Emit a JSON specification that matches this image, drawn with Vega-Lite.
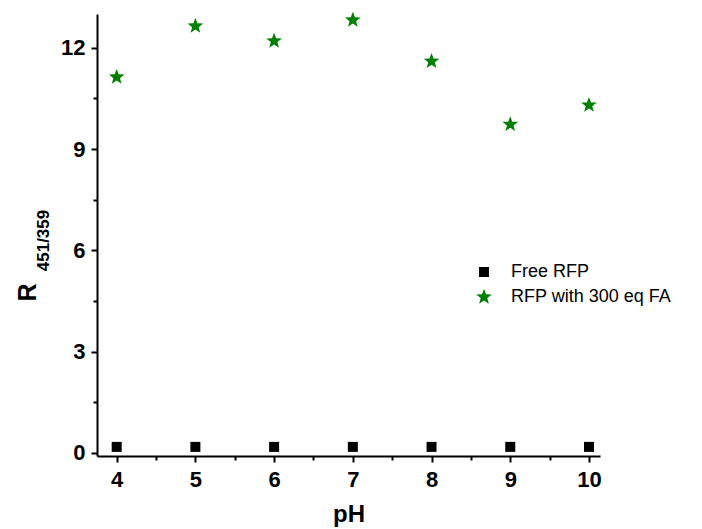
{
  "$schema": "https://vega.github.io/schema/vega-lite/v6.json",
  "width": 503,
  "height": 442,
  "autosize": {"type": "none"},
  "padding": {"left": 97, "top": 14, "right": 102, "bottom": 73},
  "background": "white",
  "config": {
    "view": {"stroke": null},
    "font": "Liberation Sans",
    "axis": {"grid": false, "domainColor": "black", "domainWidth": 2, "tickColor": "black", "tickWidth": 2, "labelColor": "black", "titleColor": "black", "labelFont": "Liberation Sans", "titleFont": "Liberation Sans"}
  },
  "datasets": {
    "pts": [
      {"pH": 4, "R": 0.18, "series": "Free RFP"},
      {"pH": 5, "R": 0.18, "series": "Free RFP"},
      {"pH": 6, "R": 0.18, "series": "Free RFP"},
      {"pH": 7, "R": 0.18, "series": "Free RFP"},
      {"pH": 8, "R": 0.18, "series": "Free RFP"},
      {"pH": 9, "R": 0.18, "series": "Free RFP"},
      {"pH": 10, "R": 0.18, "series": "Free RFP"},
      {"pH": 4, "R": 11.13, "series": "RFP with 300 eq FA"},
      {"pH": 5, "R": 12.64, "series": "RFP with 300 eq FA"},
      {"pH": 6, "R": 12.2, "series": "RFP with 300 eq FA"},
      {"pH": 7, "R": 12.82, "series": "RFP with 300 eq FA"},
      {"pH": 8, "R": 11.6, "series": "RFP with 300 eq FA"},
      {"pH": 9, "R": 9.73, "series": "RFP with 300 eq FA"},
      {"pH": 10, "R": 10.3, "series": "RFP with 300 eq FA"}
    ]
  },
  "data": {"name": "pts"},
  "layer": [
    {
      "mark": {"type": "point", "opacity": 0},
      "encoding": {
        "x": {"field": "pH", "type": "quantitative", "scale": {"domain": [3.75, 10.14], "nice": false, "zero": false},
          "axis": {"orient": "bottom", "values": [4.5, 5.5, 6.5, 7.5, 8.5, 9.5], "tickSize": 4, "labels": false, "domain": false, "title": null}},
        "y": {"field": "R", "type": "quantitative", "scale": {"domain": [-0.09, 13.0], "nice": false, "zero": false},
          "axis": {"orient": "left", "values": [1.5, 4.5, 7.5, 10.5], "tickSize": 4, "labels": false, "domain": false, "title": "451/359", "titleFontSize": 17, "titleFontWeight": "bold", "titleAngle": -90, "titleAlign": "center", "titleBaseline": "middle", "titleX": -54, "titleY": 226}}
      }
    },
    {
      "mark": {"type": "point", "filled": true, "opacity": 1, "size": 100},
      "encoding": {
        "x": {"field": "pH", "type": "quantitative", "scale": {"domain": [3.75, 10.14], "nice": false, "zero": false},
          "axis": {"orient": "bottom", "values": [4, 5, 6, 7, 8, 9, 10], "tickSize": 6, "labelFontSize": 22, "labelFontWeight": "bold", "labelPadding": 7, "title": "pH", "titleFontSize": 24, "titleFontWeight": "bold", "titlePadding": 12}},
        "y": {"field": "R", "type": "quantitative", "scale": {"domain": [-0.09, 13.0], "nice": false, "zero": false},
          "axis": {"orient": "left", "values": [0, 3, 6, 9, 12], "tickSize": 6, "labelFontSize": 22, "labelFontWeight": "bold", "labelPadding": 6, "title": "R", "titleFontSize": 25, "titleFontWeight": "bold", "titleAngle": -90, "titleAlign": "center", "titleBaseline": "middle", "titleX": -70, "titleY": 278}},
        "shape": {"field": "series", "type": "nominal", "scale": {"domain": ["Free RFP", "RFP with 300 eq FA"], "range": ["square", "M0,-1.65L0.406,-0.558L1.569,-0.51L0.656,0.213L0.97,1.335L0,0.69L-0.97,1.335L-0.656,0.213L-1.569,-0.51L-0.406,-0.558Z"]}, "legend": {"title": null, "orient": "none", "legendX": 378, "legendY": 249, "labelFontSize": 18, "labelColor": "black", "labelLimit": 300, "rowPadding": 7, "labelOffset": 18, "padding": 0, "symbolSize": 100}},
        "color": {"field": "series", "type": "nominal", "scale": {"domain": ["Free RFP", "RFP with 300 eq FA"], "range": ["black", "#008000"]}}
      }
    }
  ],
  "resolve": {"axis": {"x": "independent", "y": "independent"}}
}
